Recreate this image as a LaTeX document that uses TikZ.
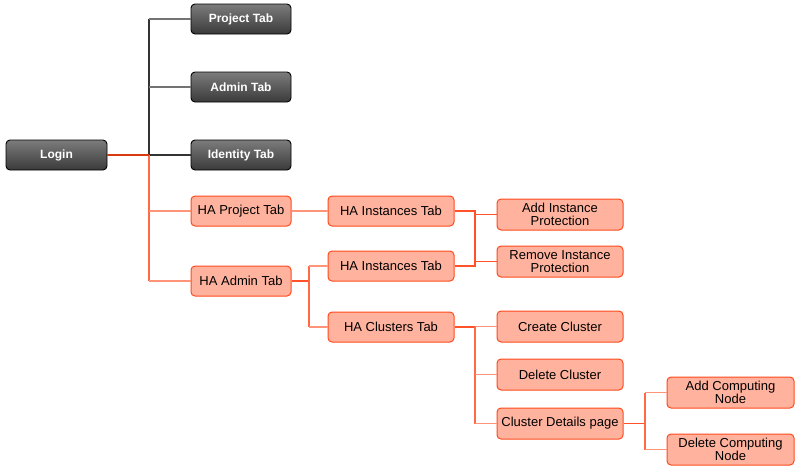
\documentclass[tikz,border=0pt]{standalone}
\usepackage{fontspec}
\setmainfont{Liberation Sans}
\definecolor{darktop}{HTML}{7C7C7C}
\definecolor{darkbot}{HTML}{3A3A3A}
\definecolor{salfill}{HTML}{FFB39E}
\definecolor{salline}{HTML}{FF4A1C}
\definecolor{ocdark}{HTML}{FF5228}
\definecolor{ocmid}{HTML}{FF6A45}
\definecolor{oclight}{HTML}{FF9478}
\definecolor{redline}{HTML}{D83A10}
\tikzset{
  darkbox/.style={draw=black, line width=0.9pt, rounded corners=4pt, top color=darktop, bottom color=darkbot,
    text=white, font=\fontsize{12}{13}\selectfont\bfseries, minimum width=100pt, minimum height=30pt, inner sep=0pt, align=center},
  salbox/.style={draw=salline, line width=1pt, rounded corners=4pt, fill=salfill, text=black,
    font=\fontsize{13}{13}\selectfont, minimum height=30pt, inner sep=0pt, align=center},
  w100/.style={minimum width=100pt},
  w126/.style={minimum width=126pt, minimum height=31pt},
  blk/.style={draw=black!80, line width=1.4pt},
  gry/.style={draw=black!55, line width=1.4pt},
  stubln/.style={draw=ocdark, line width=1.8pt},
  vln/.style={draw=ocmid, line width=1.5pt},
  brln/.style={draw=oclight, line width=1.5pt},
  loginln/.style={draw=redline, line width=1.8pt},
}
\begin{document}
\begin{tikzpicture}[x=1pt,y=-1pt]
\useasboundingbox (0,0) rectangle (803,475);
% nodes
\node[darkbox, minimum width=101pt] (login) at (56.5,155) {Login};
\node[darkbox] (proj) at (241,19) {Project Tab};
\node[darkbox] (admin) at (241,87) {Admin Tab};
\node[darkbox] (ident) at (241,155) {Identity Tab};
\node[salbox, w100] (haproj) at (241,211) {HA Project Tab};
\node[salbox, w100] (haadmin) at (241,281) {HA Admin Tab};
\node[salbox, minimum width=126pt] (hainsta) at (391,211) {HA Instances Tab};
\node[salbox, minimum width=126pt] (hainstb) at (391,266) {HA Instances Tab};
\node[salbox, minimum width=126pt] (haclus) at (391,327) {HA Clusters Tab};
\node[salbox, w126] (addprot) at (560,214.5) {Add Instance\\Protection};
\node[salbox, w126] (remprot) at (560,261.5) {Remove Instance\\Protection};
\node[salbox, w126] (create) at (560,326.5) {Create Cluster};
\node[salbox, w126] (delete) at (560,374.5) {Delete Cluster};
\node[salbox, w126] (details) at (560,423.5) {Cluster Details page};
\node[salbox, w126, minimum width=127pt] (addcomp) at (730.5,392.5) {Add Computing\\Node};
\node[salbox, w126, minimum width=127pt] (delcomp) at (730.5,449.5) {Delete Computing\\Node};
% junctions
\coordinate (jl) at (149,155);
\coordinate (ja) at (309,281);
\coordinate (ji) at (475,211);
\coordinate (jc) at (475,327);
\coordinate (jd) at (645,423.5);
% login connectors
\draw[blk] (jl) -- (jl |- proj.west);
\draw[gry] (jl |- proj.west) -- (proj.west);
\draw[gry] (jl |- admin.west) -- (admin.west);
\draw[blk] (jl) -- (ident.west);
\draw[vln] (jl) -- (jl |- haadmin.west);
\draw[brln] (jl |- haproj.west) -- (haproj.west);
\draw[brln] (jl |- haadmin.west) -- (haadmin.west);
\draw[loginln] (login.east) -- (jl);
% HA project
\draw[brln] (haproj.east) -- (hainsta.west);
% HA admin
\draw[stubln] (haadmin.east) -- (ja);
\draw[vln] (ja |- hainstb.west) -- (ja |- haclus.west);
\draw[brln] (ja |- hainstb.west) -- (hainstb.west);
\draw[brln] (ja |- haclus.west) -- (haclus.west);
% instances
\draw[stubln] (hainsta.east) -- (ji) -- (ji |- hainstb.east) -- (hainstb.east);
\draw[stubln] (ji |- addprot.west) -- (addprot.west);
\draw[stubln] (ji |- remprot.west) -- (remprot.west);
% clusters
\draw[stubln] (haclus.east) -- (jc);
\draw[vln] (jc) -- (jc |- details.west);
\draw[brln] (jc |- create.west) -- (create.west);
\draw[brln] (jc |- delete.west) -- (delete.west);
\draw[brln] (jc |- details.west) -- (details.west);
% details
\draw[stubln] (details.east) -- (jd);
\draw[vln] (jd |- addcomp.west) -- (jd |- delcomp.west);
\draw[brln] (jd |- addcomp.west) -- (addcomp.west);
\draw[brln] (jd |- delcomp.west) -- (delcomp.west);
\end{tikzpicture}
\end{document}
